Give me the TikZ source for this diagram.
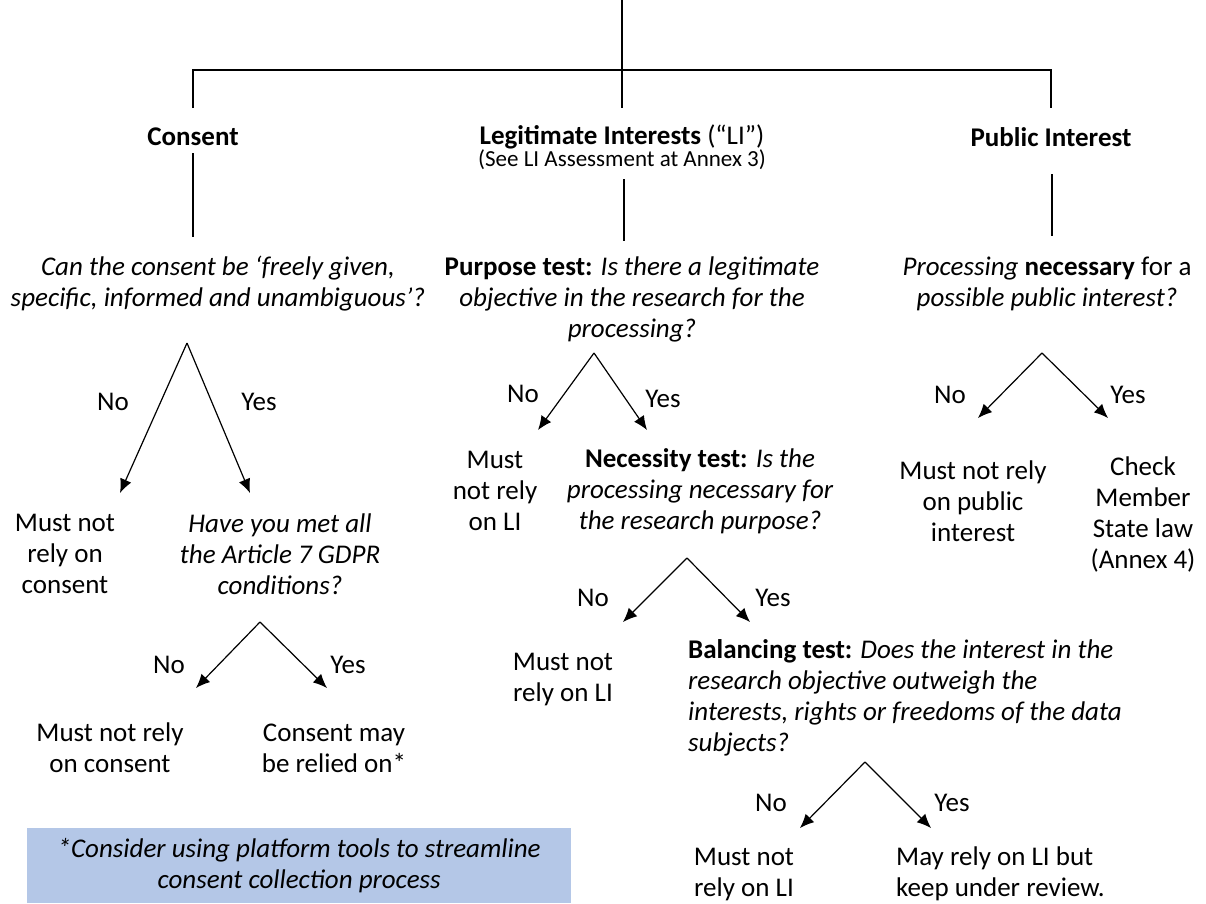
\documentclass[tikz,border=0pt]{standalone}
\usepackage{fontspec}
\setmainfont{Carlito}
\usetikzlibrary{arrows.meta}
\definecolor{boxblue}{HTML}{B4C7E7}
\newcommand\basefont{\fontsize{27}{31}\selectfont}
\begin{document}
\begin{tikzpicture}[x=1pt,y=-1pt,
    >={Latex[length=14pt,width=12pt]},
    every node/.style={inner sep=0pt,align=center},
    txt/.style={font=\basefont},
    ask/.style={font=\basefont\itshape},
    small/.style={font=\fontsize{23}{26}\selectfont},
    stem/.style={line width=1.4pt},
    fork/.style={line width=1.2pt,->}]
    \useasboundingbox (0,0) rectangle (1206,903);
    % top bracket
    \coordinate (top) at (622,0);
    \coordinate (hub) at (622,108);
    \coordinate (brL) at (193,108);
    \coordinate (brR) at (1051,108);
    \draw[stem] (top) -- (hub);
    \draw[stem] (brL) -- ++(0,-38) -| (brR);
    \node[txt] (consent) at (193,137) {\textbf{Consent}};
    \node[txt] (li) at (622,137) {\textbf{Legitimate Interests} (“LI”)};
    \node[small] (lisub) at (622,160) {(See LI Assessment at Annex 3)};
    \node[txt] (pub) at (1051,137) {\textbf{Public Interest}};
    \coordinate (c1) at (193,153); \coordinate (c2) at (193,237);
    \coordinate (l1) at (624,179); \coordinate (l2) at (624,241);
    \coordinate (p1) at (1052,174); \coordinate (p2) at (1052,236);
    \draw[stem] (c1) -- (c2);
    \draw[stem] (l1) -- (l2);
    \draw[stem] (p1) -- (p2);
    % consent
    \node[ask] (cq) at (218,284) {Can the consent be ‘freely given,\\specific, informed and unambiguous’?};
    \coordinate (cqf) at (187,343);
    \coordinate (cqn) at (120,493);
    \coordinate (cqy) at (250,493);
    \draw[fork] (cqf) -- (cqn);
    \draw[fork] (cqf) -- (cqy);
    \node[txt] (cqno) at (113,402) {No};
    \node[txt] (cqyes) at (259,402) {Yes};
    \node[txt] (cno) at (65,554) {Must not\\rely on\\consent};
    \node[ask] (aq) at (280,554) {Have you met all\\the Article 7 GDPR\\conditions?};
    \coordinate (aqf) at (260,622);
    \coordinate (aqn) at (196,688);
    \coordinate (aqy) at (327,688);
    \draw[fork] (aqf) -- (aqn);
    \draw[fork] (aqf) -- (aqy);
    \node[txt] (aqno) at (169,665) {No};
    \node[txt] (aqyes) at (348,665) {Yes};
    \node[txt] (ano) at (110,748) {Must not rely\\on consent};
    \node[txt] (ayes) at (334,748) {Consent may\\be relied on*};
    \node[ask,fill=boxblue,anchor=north west,minimum width=544pt,minimum height=75pt] (hint) at (27,828)
        {*Consider using platform tools to streamline\\consent collection process};
    % legitimate interests
    \node[ask] (pq) at (632,299) {{\upshape\bfseries Purpose test:} Is there a legitimate\\objective in the research for the\\processing?};
    \coordinate (pqf) at (594,353);
    \coordinate (pqn) at (538,430);
    \coordinate (pqy) at (647,430);
    \draw[fork] (pqf) -- (pqn);
    \draw[fork] (pqf) -- (pqy);
    \node[txt] (pqno) at (523,394) {No};
    \node[txt] (pqyes) at (663,399) {Yes};
    \node[txt] (pno) at (495,491) {Must\\not rely\\on LI};
    \node[ask] (nq) at (700,491) {{\upshape\bfseries Necessity test:} Is the\\processing necessary for\\the research purpose?};
    \coordinate (nqf) at (687,558);
    \coordinate (nqn) at (623,622);
    \coordinate (nqy) at (750,622);
    \draw[fork] (nqf) -- (nqn);
    \draw[fork] (nqf) -- (nqy);
    \node[txt] (nqno) at (593,598) {No};
    \node[txt] (nqyes) at (773,598) {Yes};
    \node[txt] (nno) at (563,679) {Must not\\rely on LI};
    \node[ask,anchor=west,align=left] (bq) at (688,698) {{\upshape\bfseries Balancing test:} Does the interest in the\\research objective outweigh the\\interests, rights or freedoms of the data\\subjects?};
    \coordinate (bqf) at (865,762);
    \coordinate (bqn) at (800,828);
    \coordinate (bqy) at (931,828);
    \draw[fork] (bqf) -- (bqn);
    \draw[fork] (bqf) -- (bqy);
    \node[txt] (bqno) at (771,803) {No};
    \node[txt] (bqyes) at (952,803) {Yes};
    \node[txt] (bno) at (744,874) {Must not\\rely on LI};
    \node[txt,anchor=west,align=left] (byes) at (896,874) {May rely on LI but\\keep under review.};
    % public interest
    \node[txt] (uq) at (1047,284) {\textit{Processing} \textbf{necessary} for a\\\textit{possible public interest?}};
    \coordinate (uqf) at (1042,353);
    \coordinate (uqn) at (978,418);
    \coordinate (uqy) at (1108,418);
    \draw[fork] (uqf) -- (uqn);
    \draw[fork] (uqf) -- (uqy);
    \node[txt] (uqno) at (950,395) {No};
    \node[txt] (uqyes) at (1128,395) {Yes};
    \node[txt] (uno) at (973,501) {Must not rely\\on public\\interest};
    \node[txt] (uyes) at (1143,514) {Check\\Member\\State law\\(Annex 4)};
\end{tikzpicture}
\end{document}
